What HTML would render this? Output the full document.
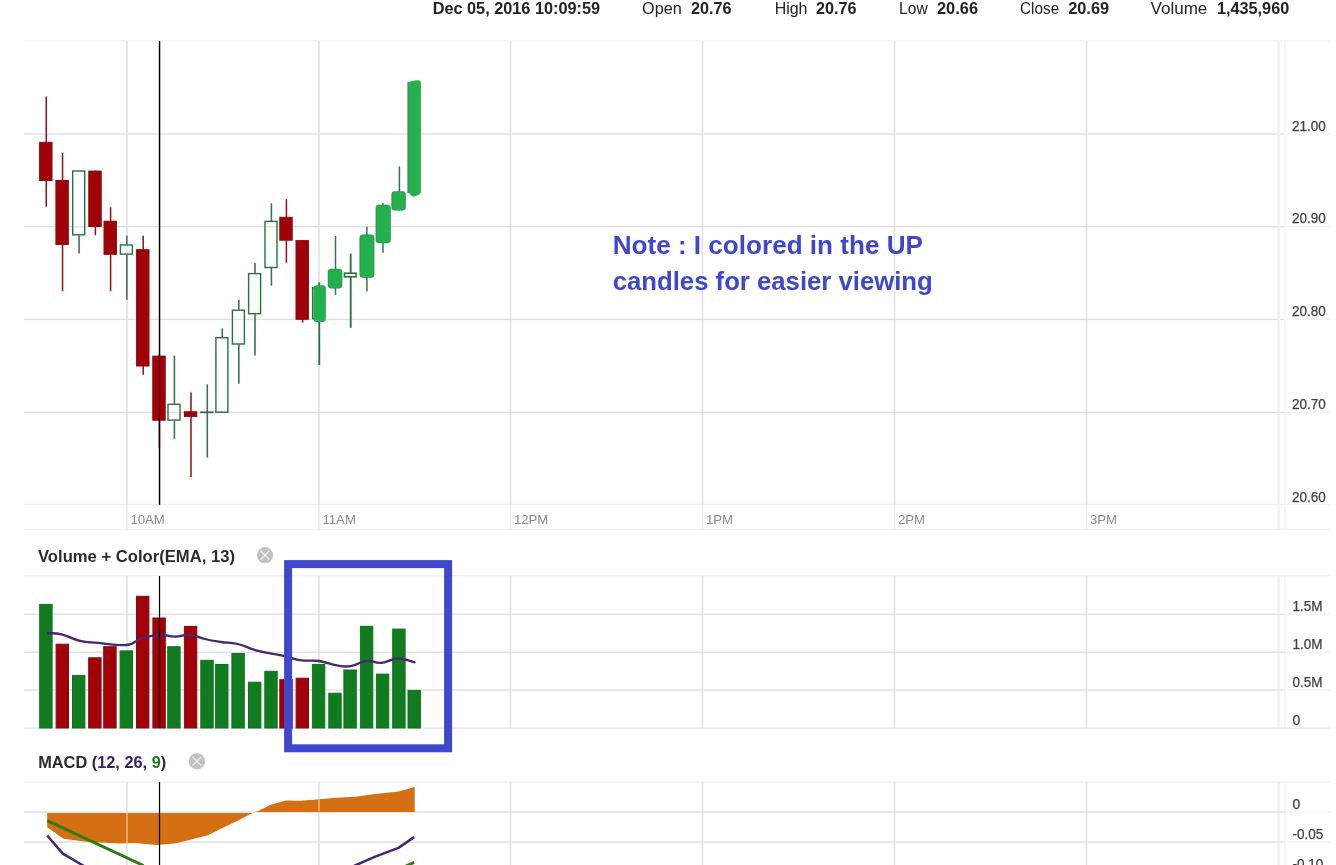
<!DOCTYPE html>
<html lang="en"><head><meta charset="utf-8"><title>Chart</title>
<style>
html,body{margin:0;padding:0;background:#fff;}
body{width:1336px;height:865px;overflow:hidden;font-family:"Liberation Sans", Arial, sans-serif;}
svg{display:block;}
</style></head><body>
<svg width="1336" height="865" viewBox="0 0 1336 865">
<rect width="1336" height="865" fill="#fff"/>
<g id="main-grid">
<rect x="24" y="40.3" width="1306" height="1.2" fill="#f3f3f3"/>
<rect x="24" y="528.8" width="1306" height="1.2" fill="#f0f0f0"/>
<rect x="24" y="133.30" width="1261" height="1.4" fill="#e0e0e0"/>
<rect x="24" y="226.00" width="1261" height="1.4" fill="#e0e0e0"/>
<rect x="24" y="318.70" width="1261" height="1.4" fill="#e0e0e0"/>
<rect x="24" y="411.60" width="1261" height="1.4" fill="#e0e0e0"/>
<rect x="24" y="503.8" width="1261" height="1.5" fill="#efefef"/>
<rect x="126.25" y="41" width="1.5" height="464" fill="#e0e0e0"/>
<rect x="126.25" y="505" width="1.5" height="24" fill="#ececec"/>
<rect x="318.25" y="41" width="1.5" height="464" fill="#e0e0e0"/>
<rect x="318.25" y="505" width="1.5" height="24" fill="#ececec"/>
<rect x="509.75" y="41" width="1.5" height="464" fill="#e0e0e0"/>
<rect x="509.75" y="505" width="1.5" height="24" fill="#ececec"/>
<rect x="701.75" y="41" width="1.5" height="464" fill="#e0e0e0"/>
<rect x="701.75" y="505" width="1.5" height="24" fill="#ececec"/>
<rect x="893.75" y="41" width="1.5" height="464" fill="#e0e0e0"/>
<rect x="893.75" y="505" width="1.5" height="24" fill="#ececec"/>
<rect x="1085.75" y="41" width="1.5" height="464" fill="#e0e0e0"/>
<rect x="1085.75" y="505" width="1.5" height="24" fill="#ececec"/>
<rect x="1277.4" y="41" width="2.4" height="488" fill="#f0f0f0"/>
<rect x="1284" y="41" width="1.5" height="488" fill="#f5f5f5"/>
<rect x="1277.4" y="576" width="2.4" height="152" fill="#f0f0f0"/>
<rect x="1284" y="576" width="1.5" height="152" fill="#f5f5f5"/>
<rect x="1277.4" y="782" width="2.4" height="83" fill="#f0f0f0"/>
<rect x="1284" y="782" width="1.5" height="83" fill="#f5f5f5"/>
<rect x="1285" y="133.3" width="45" height="1.4" fill="#f3f3f3"/>
<rect x="1285" y="226.0" width="45" height="1.4" fill="#f3f3f3"/>
<rect x="1285" y="318.7" width="45" height="1.4" fill="#f3f3f3"/>
<rect x="1285" y="411.6" width="45" height="1.4" fill="#f3f3f3"/>
<rect x="1285" y="503.8" width="45" height="1.4" fill="#f3f3f3"/>
<rect x="1285" y="613.5" width="45" height="1.4" fill="#f3f3f3"/>
<rect x="1285" y="651.5" width="45" height="1.4" fill="#f3f3f3"/>
<rect x="1285" y="689.4" width="45" height="1.4" fill="#f3f3f3"/>
<rect x="1285" y="811.3" width="45" height="1.4" fill="#f3f3f3"/>
<rect x="1285" y="841.4" width="45" height="1.4" fill="#f3f3f3"/>
</g>
<rect x="158.9" y="41" width="1.25" height="463.5" fill="#000"/>
<g id="candles">
<rect x="45.50" y="96.5" width="1.5" height="110.2" fill="#8f1018"/>
<rect x="39.6" y="142.3" width="12.4" height="38.2" fill="#a00207" stroke="#870a10" stroke-width="1"/>
<rect x="61.80" y="153.0" width="1.5" height="138.2" fill="#8f1018"/>
<rect x="55.9" y="180.5" width="12.4" height="63.9" fill="#a00207" stroke="#870a10" stroke-width="1"/>
<rect x="78.25" y="235.2" width="1.6" height="18.3" fill="#39754f"/>
<rect x="72.7" y="171.0" width="12.0" height="63.8" fill="#f3fff3" fill-opacity="0.3" stroke="#2c6f43" stroke-width="1.4"/>
<rect x="94.65" y="170.6" width="1.5" height="64.6" fill="#8f1018"/>
<rect x="88.8" y="171.1" width="12.4" height="55.4" fill="#a00207" stroke="#870a10" stroke-width="1"/>
<rect x="109.85" y="207.2" width="1.5" height="84.0" fill="#8f1018"/>
<rect x="104.0" y="221.2" width="12.4" height="33.1" fill="#a00207" stroke="#870a10" stroke-width="1"/>
<rect x="126.00" y="235.7" width="1.6" height="8.9" fill="#39754f"/>
<rect x="126.00" y="254.5" width="1.6" height="45.3" fill="#39754f"/>
<rect x="120.4" y="245.0" width="12.0" height="9.1" fill="#f3fff3" fill-opacity="0.3" stroke="#2c6f43" stroke-width="1.4"/>
<rect x="142.45" y="235.7" width="1.5" height="139.0" fill="#8f1018"/>
<rect x="136.6" y="249.7" width="12.4" height="116.3" fill="#a00207" stroke="#870a10" stroke-width="1"/>
<rect x="158.65" y="353.0" width="1.5" height="95.0" fill="#8f1018"/>
<rect x="152.8" y="356.1" width="12.4" height="64.1" fill="#a00207" stroke="#870a10" stroke-width="1"/>
<rect x="173.60" y="355.6" width="1.6" height="48.3" fill="#39754f"/>
<rect x="173.60" y="420.5" width="1.6" height="18.3" fill="#39754f"/>
<rect x="168.0" y="404.3" width="12.0" height="15.8" fill="#f3fff3" fill-opacity="0.3" stroke="#2c6f43" stroke-width="1.4"/>
<rect x="190.25" y="392.5" width="1.5" height="84.7" fill="#8f1018"/>
<rect x="184.4" y="411.8" width="12.4" height="4.6" fill="#a00207" stroke="#870a10" stroke-width="1"/>
<rect x="206.50" y="384.3" width="1.6" height="73.3" fill="#39754f"/>
<rect x="200.2" y="411.4" width="13.4" height="1.8" fill="#2c6f43"/>
<rect x="221.50" y="328.3" width="1.6" height="9.0" fill="#39754f"/>
<rect x="215.9" y="337.7" width="12.0" height="74.5" fill="#f3fff3" fill-opacity="0.3" stroke="#2c6f43" stroke-width="1.4"/>
<rect x="238.00" y="299.8" width="1.6" height="10.0" fill="#39754f"/>
<rect x="238.00" y="344.4" width="1.6" height="39.4" fill="#39754f"/>
<rect x="232.4" y="310.2" width="12.0" height="33.8" fill="#f3fff3" fill-opacity="0.3" stroke="#2c6f43" stroke-width="1.4"/>
<rect x="254.20" y="263.0" width="1.6" height="10.2" fill="#39754f"/>
<rect x="254.20" y="314.1" width="1.6" height="41.5" fill="#39754f"/>
<rect x="248.6" y="273.6" width="12.0" height="40.1" fill="#f3fff3" fill-opacity="0.3" stroke="#2c6f43" stroke-width="1.4"/>
<rect x="270.60" y="203.3" width="1.6" height="17.7" fill="#39754f"/>
<rect x="270.60" y="267.9" width="1.6" height="17.7" fill="#39754f"/>
<rect x="265.0" y="221.4" width="12.0" height="46.1" fill="#f3fff3" fill-opacity="0.3" stroke="#2c6f43" stroke-width="1.4"/>
<rect x="285.65" y="199.2" width="1.5" height="63.5" fill="#8f1018"/>
<rect x="279.8" y="217.3" width="12.4" height="22.9" fill="#a00207" stroke="#870a10" stroke-width="1"/>
<rect x="301.85" y="240.1" width="1.5" height="82.5" fill="#8f1018"/>
<rect x="296.0" y="240.6" width="12.4" height="78.7" fill="#a00207" stroke="#870a10" stroke-width="1"/>
<rect x="318.4" y="282.4" width="1.8" height="82.5" fill="#2c6f43"/>
<rect x="312.7" y="287.6" width="11.8" height="31" fill="#fff" stroke="#2c6f43" stroke-width="1.6"/>
<rect x="313.6" y="285.2" width="12.2" height="36.9" rx="3" fill="#22b14c"/>
<rect x="334.75" y="236.0" width="1.5" height="59.0" fill="#39754f"/>
<rect x="328.0" y="269.0" width="14.0" height="19.2" rx="3" fill="#22b14c" stroke="#2c6f43" stroke-width="0.5"/>
<rect x="366.15" y="226.7" width="1.5" height="64.7" fill="#39754f"/>
<rect x="359.8" y="234.8" width="14.3" height="42.7" rx="3" fill="#22b14c" stroke="#2c6f43" stroke-width="0.5"/>
<rect x="382.25" y="203.1" width="1.5" height="49.7" fill="#39754f"/>
<rect x="375.9" y="205.0" width="14.6" height="37.9" rx="3" fill="#22b14c" stroke="#2c6f43" stroke-width="0.5"/>
<rect x="398.65" y="166.4" width="1.5" height="43.9" fill="#39754f"/>
<rect x="391.7" y="191.4" width="13.8" height="18.9" rx="3" fill="#22b14c" stroke="#2c6f43" stroke-width="0.5"/>
<rect x="349.8" y="253.5" width="1.8" height="74.4" fill="#2c6f43"/>
<rect x="344.4" y="273.2" width="11.6" height="3.6" fill="#e6f6e6" stroke="#2c6f43" stroke-width="1.6"/>
<rect x="407.5" y="82" width="1.3" height="111" fill="#2c6f43"/>
<path d="M408.6 84 Q408.8 81.6 411 81.3 L415 80.4 L418.6 80.2 Q420.8 80.4 420.9 83 L420.9 191.5 Q420.7 194.6 417.6 195.3 L414.4 196.6 Q412.4 196.9 410.6 195.2 Q408.7 193.6 408.6 191 Z" fill="#22b14c"/>
</g>
<g font-family='"Liberation Sans", Arial, sans-serif' font-size="14" fill="#404040" stroke="#404040" stroke-width="0.25">
<text x="1292" y="130.7" textLength="33.8" lengthAdjust="spacingAndGlyphs">21.00</text>
<text x="1292" y="223.4" textLength="33.8" lengthAdjust="spacingAndGlyphs">20.90</text>
<text x="1292" y="316.1" textLength="33.8" lengthAdjust="spacingAndGlyphs">20.80</text>
<text x="1292" y="409.0" textLength="33.8" lengthAdjust="spacingAndGlyphs">20.70</text>
<text x="1292" y="501.7" textLength="33.8" lengthAdjust="spacingAndGlyphs">20.60</text>
</g>
<g font-family='"Liberation Sans", Arial, sans-serif' font-size="13.2" fill="#8a8a8a">
<text x="130.4" y="523.6">10AM</text>
<text x="322.4" y="523.6">11AM</text>
<text x="513.9" y="523.6">12PM</text>
<text x="705.9" y="523.6">1PM</text>
<text x="897.9" y="523.6">2PM</text>
<text x="1089.9" y="523.6">3PM</text>
</g>
<g id="vol">
<rect x="24" y="575" width="1306" height="1.4" fill="#f0f0f0"/>
<rect x="24" y="613.50" width="1261" height="1.4" fill="#e0e0e0"/>
<rect x="24" y="651.50" width="1261" height="1.4" fill="#e0e0e0"/>
<rect x="24" y="689.40" width="1261" height="1.4" fill="#e0e0e0"/>
<rect x="24" y="727.4" width="1306" height="1.6" fill="#ebebeb"/>
<rect x="126.25" y="576" width="1.5" height="152" fill="#e0e0e0"/>
<rect x="318.25" y="576" width="1.5" height="152" fill="#e0e0e0"/>
<rect x="509.75" y="576" width="1.5" height="152" fill="#e0e0e0"/>
<rect x="701.75" y="576" width="1.5" height="152" fill="#e0e0e0"/>
<rect x="893.75" y="576" width="1.5" height="152" fill="#e0e0e0"/>
<rect x="1085.75" y="576" width="1.5" height="152" fill="#e0e0e0"/>
<rect x="39.7" y="604.4" width="12.4" height="123.6" fill="#107c1f" stroke="#0f7420" stroke-width="1"/>
<rect x="56.1" y="644.2" width="12.4" height="83.8" fill="#a20207" stroke="#870a10" stroke-width="1"/>
<rect x="72.5" y="675.4" width="12.4" height="52.6" fill="#107c1f" stroke="#0f7420" stroke-width="1"/>
<rect x="88.7" y="657.8" width="12.4" height="70.2" fill="#a20207" stroke="#870a10" stroke-width="1"/>
<rect x="103.7" y="646.7" width="12.4" height="81.3" fill="#a20207" stroke="#870a10" stroke-width="1"/>
<rect x="120.1" y="650.9" width="12.4" height="77.1" fill="#107c1f" stroke="#0f7420" stroke-width="1"/>
<rect x="136.5" y="596.3" width="12.4" height="131.7" fill="#a20207" stroke="#870a10" stroke-width="1"/>
<rect x="152.9" y="618.0" width="12.4" height="110.0" fill="#a20207" stroke="#870a10" stroke-width="1"/>
<rect x="167.7" y="646.7" width="12.4" height="81.3" fill="#107c1f" stroke="#0f7420" stroke-width="1"/>
<rect x="184.4" y="626.4" width="12.4" height="101.6" fill="#a20207" stroke="#870a10" stroke-width="1"/>
<rect x="200.8" y="660.3" width="12.4" height="67.7" fill="#107c1f" stroke="#0f7420" stroke-width="1"/>
<rect x="215.6" y="664.5" width="12.4" height="63.5" fill="#107c1f" stroke="#0f7420" stroke-width="1"/>
<rect x="231.9" y="653.5" width="12.4" height="74.5" fill="#107c1f" stroke="#0f7420" stroke-width="1"/>
<rect x="248.5" y="682.2" width="12.4" height="45.8" fill="#107c1f" stroke="#0f7420" stroke-width="1"/>
<rect x="264.8" y="671.3" width="12.4" height="56.7" fill="#107c1f" stroke="#0f7420" stroke-width="1"/>
<rect x="279.8" y="679.7" width="12.4" height="48.3" fill="#a20207" stroke="#870a10" stroke-width="1"/>
<rect x="296.1" y="678.2" width="12.4" height="49.8" fill="#a20207" stroke="#870a10" stroke-width="1"/>
<rect x="312.4" y="664.4" width="12.4" height="63.6" fill="#107c1f" stroke="#0f7420" stroke-width="1"/>
<rect x="328.8" y="693.2" width="12.4" height="34.8" fill="#107c1f" stroke="#0f7420" stroke-width="1"/>
<rect x="343.9" y="670.0" width="12.4" height="58.0" fill="#107c1f" stroke="#0f7420" stroke-width="1"/>
<rect x="360.4" y="626.3" width="12.4" height="101.7" fill="#107c1f" stroke="#0f7420" stroke-width="1"/>
<rect x="376.4" y="674.1" width="12.4" height="53.9" fill="#107c1f" stroke="#0f7420" stroke-width="1"/>
<rect x="392.7" y="629.1" width="12.4" height="98.9" fill="#107c1f" stroke="#0f7420" stroke-width="1"/>
<rect x="408.0" y="690.4" width="12.4" height="37.6" fill="#107c1f" stroke="#0f7420" stroke-width="1"/>
<path fill="none" stroke="#47276f" stroke-width="2.3" stroke-linejoin="round" stroke-linecap="round" d="M47.7 633.2C50.9 633.5 54.1 632.6 61.6 634.4C69.1 636.2 71.4 638.8 80.0 640.8C88.6 642.8 87.8 641.9 98.6 642.9C109.4 643.9 116.6 645.9 126.3 645.0C136.0 644.1 132.6 641.4 140.2 639.0C147.8 636.6 150.6 635.3 158.7 634.8C166.8 634.3 167.5 636.7 174.8 636.7C182.1 636.7 182.9 634.3 189.9 634.8C196.9 635.3 197.6 637.3 204.9 639.0C212.2 640.7 213.3 640.8 221.0 642.0C228.7 643.2 229.1 641.9 237.8 644.0C246.5 646.1 247.4 648.1 258.1 650.9C268.8 653.7 273.5 653.7 283.6 655.9C293.7 658.1 293.1 659.1 301.4 660.3C309.7 661.5 310.9 659.8 319.2 661.0C327.5 662.2 329.6 664.2 337.0 665.4C344.4 666.6 344.2 667.1 351.0 666.1C357.8 665.1 359.1 661.8 366.2 661.0C373.3 660.2 374.1 663.4 381.5 662.8C388.9 662.2 390.3 658.6 398.0 658.5C405.7 658.4 410.7 661.4 414.6 662.3"/>
<g font-family='"Liberation Sans", Arial, sans-serif' font-size="14" fill="#404040" stroke="#404040" stroke-width="0.25">
<text x="1292.6" y="610.8" textLength="30.0" lengthAdjust="spacingAndGlyphs">1.5M</text>
<text x="1292.6" y="648.8" textLength="30.0" lengthAdjust="spacingAndGlyphs">1.0M</text>
<text x="1292.6" y="686.7" textLength="30.0" lengthAdjust="spacingAndGlyphs">0.5M</text>
<text x="1292.6" y="724.8">0</text>
</g>
</g>
<g id="macd">
<rect x="24" y="781.2" width="1306" height="1.4" fill="#f0f0f0"/>
<rect x="24" y="811.30" width="1261" height="1.4" fill="#e0e0e0"/>
<rect x="24" y="841.40" width="1261" height="1.4" fill="#e0e0e0"/>
<rect x="126.25" y="782" width="1.5" height="83" fill="#e0e0e0"/>
<rect x="318.25" y="782" width="1.5" height="83" fill="#e0e0e0"/>
<rect x="509.75" y="782" width="1.5" height="83" fill="#e0e0e0"/>
<rect x="701.75" y="782" width="1.5" height="83" fill="#e0e0e0"/>
<rect x="893.75" y="782" width="1.5" height="83" fill="#e0e0e0"/>
<rect x="1085.75" y="782" width="1.5" height="83" fill="#e0e0e0"/>
<polygon fill="#d46f14" points="47.2,813 47.2,827.3 63.6,838.8 85.9,841.8 118.8,843.4 135.3,843 156.7,844.9 174.8,843.4 191.3,839.6 207.7,835.2 240,819.5 253.5,812.4 258.4,810.9 270,805 285.6,800.6 301.2,800.8 319.3,799.2 336.2,797.8 355.7,796.7 375.2,793.9 398.5,791.4 414.7,786.9 414.7,812 253.5,812 253.5,813"/>
<rect x="126.2" y="813" width="1.6" height="30" fill="#ffc48f" opacity="0.8"/>
<rect x="318.2" y="799.5" width="1.6" height="11.5" fill="#ffc48f" opacity="0.8"/>
<polyline fill="none" stroke="#2b7d12" stroke-width="3" points="47.2,820.7 143.5,865.5"/>
<polyline fill="none" stroke="#2b7d12" stroke-width="3" points="404,867 414.1,862.4"/>
<polyline fill="none" stroke="#47276f" stroke-width="2.5" stroke-linejoin="round" points="47.2,835.5 62.8,853.6 84,866"/>
<polyline fill="none" stroke="#47276f" stroke-width="2.5" stroke-linejoin="round" points="354,866 375.2,856.6 398.5,847.9 414.1,837.1"/>
<g font-family='"Liberation Sans", Arial, sans-serif' font-size="14" fill="#404040" stroke="#404040" stroke-width="0.25">
<text x="1292.6" y="808.6">0</text>
<text x="1292.6" y="838.7" textLength="30.8" lengthAdjust="spacingAndGlyphs">-0.05</text>
<text x="1292.6" y="868.8" textLength="30.8" lengthAdjust="spacingAndGlyphs">-0.10</text>
</g>
</g>
<rect x="158.9" y="41" width="1.25" height="314.6" fill="#000"/>
<rect x="158.9" y="355.6" width="1.25" height="65" fill="#000" opacity="0.45"/>
<rect x="158.9" y="420.6" width="1.25" height="84" fill="#000"/>
<rect x="158.9" y="576" width="1.25" height="152" fill="#000"/>
<rect x="158.9" y="782" width="1.25" height="83" fill="#000"/>
<rect x="288.1" y="564.1" width="160" height="184.2" fill="none" stroke="#3f48cc" stroke-width="8"/>
<text x="38" y="562.3" font-family='"Liberation Sans", Arial, sans-serif' font-weight="bold" font-size="16.4" fill="#2b2b2b" textLength="197" lengthAdjust="spacingAndGlyphs">Volume + Color(EMA, 13)</text>
<circle cx="265.0" cy="555.2" r="8.1" fill="#c1c1c1"/>
<path d="M260.6 550.8L269.4 559.6M269.4 550.8L260.6 559.6" stroke="#fff" stroke-opacity="0.62" stroke-width="1.5" fill="none"/>
<circle cx="265.0" cy="555.2" r="0.9" fill="#fff"/>
<text x="38.2" y="768" font-family='"Liberation Sans", Arial, sans-serif' font-weight="bold" font-size="16.4" fill="#2b2b2b" textLength="128" lengthAdjust="spacingAndGlyphs">MACD (<tspan fill="#3d2064">12, 26, </tspan><tspan fill="#1a7a1a">9</tspan>)</text>
<circle cx="196.9" cy="761.3" r="8.1" fill="#c1c1c1"/>
<path d="M192.5 756.9L201.3 765.7M201.3 756.9L192.5 765.7" stroke="#fff" stroke-opacity="0.62" stroke-width="1.5" fill="none"/>
<circle cx="196.9" cy="761.3" r="0.9" fill="#fff"/>
<text x="432.7" y="13.8" font-family='"Liberation Sans", Arial, sans-serif' font-weight="bold" font-size="16" fill="#222" textLength="167.4" lengthAdjust="spacingAndGlyphs">Dec 05, 2016 10:09:59</text>
<text x="642.1" y="13.8" font-family='"Liberation Sans", Arial, sans-serif' font-weight="normal" font-size="16" fill="#222" textLength="39.6" lengthAdjust="spacingAndGlyphs">Open</text>
<text x="691" y="13.8" font-family='"Liberation Sans", Arial, sans-serif' font-weight="bold" font-size="16" fill="#222" textLength="40.6" lengthAdjust="spacingAndGlyphs">20.76</text>
<text x="774.7" y="13.8" font-family='"Liberation Sans", Arial, sans-serif' font-weight="normal" font-size="16" fill="#222" textLength="32.7" lengthAdjust="spacingAndGlyphs">High</text>
<text x="816" y="13.8" font-family='"Liberation Sans", Arial, sans-serif' font-weight="bold" font-size="16" fill="#222" textLength="40.6" lengthAdjust="spacingAndGlyphs">20.76</text>
<text x="899.1" y="13.8" font-family='"Liberation Sans", Arial, sans-serif' font-weight="normal" font-size="16" fill="#222" textLength="28.6" lengthAdjust="spacingAndGlyphs">Low</text>
<text x="937" y="13.8" font-family='"Liberation Sans", Arial, sans-serif' font-weight="bold" font-size="16" fill="#222" textLength="41" lengthAdjust="spacingAndGlyphs">20.66</text>
<text x="1020" y="13.8" font-family='"Liberation Sans", Arial, sans-serif' font-weight="normal" font-size="16" fill="#222" textLength="39.2" lengthAdjust="spacingAndGlyphs">Close</text>
<text x="1068.2" y="13.8" font-family='"Liberation Sans", Arial, sans-serif' font-weight="bold" font-size="16" fill="#222" textLength="40.9" lengthAdjust="spacingAndGlyphs">20.69</text>
<text x="1150.5" y="13.8" font-family='"Liberation Sans", Arial, sans-serif' font-weight="normal" font-size="16" fill="#222" textLength="56.8" lengthAdjust="spacingAndGlyphs">Volume</text>
<text x="1217" y="13.8" font-family='"Liberation Sans", Arial, sans-serif' font-weight="bold" font-size="16" fill="#222" textLength="72.2" lengthAdjust="spacingAndGlyphs">1,435,960</text>
<text x="612.7" y="253.7" font-family='"Liberation Sans", Arial, sans-serif' font-weight="bold" font-size="25" fill="#3f48cc" textLength="310.2" lengthAdjust="spacingAndGlyphs">Note : I colored in the UP</text>
<text x="612.7" y="290.1" font-family='"Liberation Sans", Arial, sans-serif' font-weight="bold" font-size="25" fill="#3f48cc" textLength="320.1" lengthAdjust="spacingAndGlyphs">candles for easier viewing</text>
</svg>
</body></html>
